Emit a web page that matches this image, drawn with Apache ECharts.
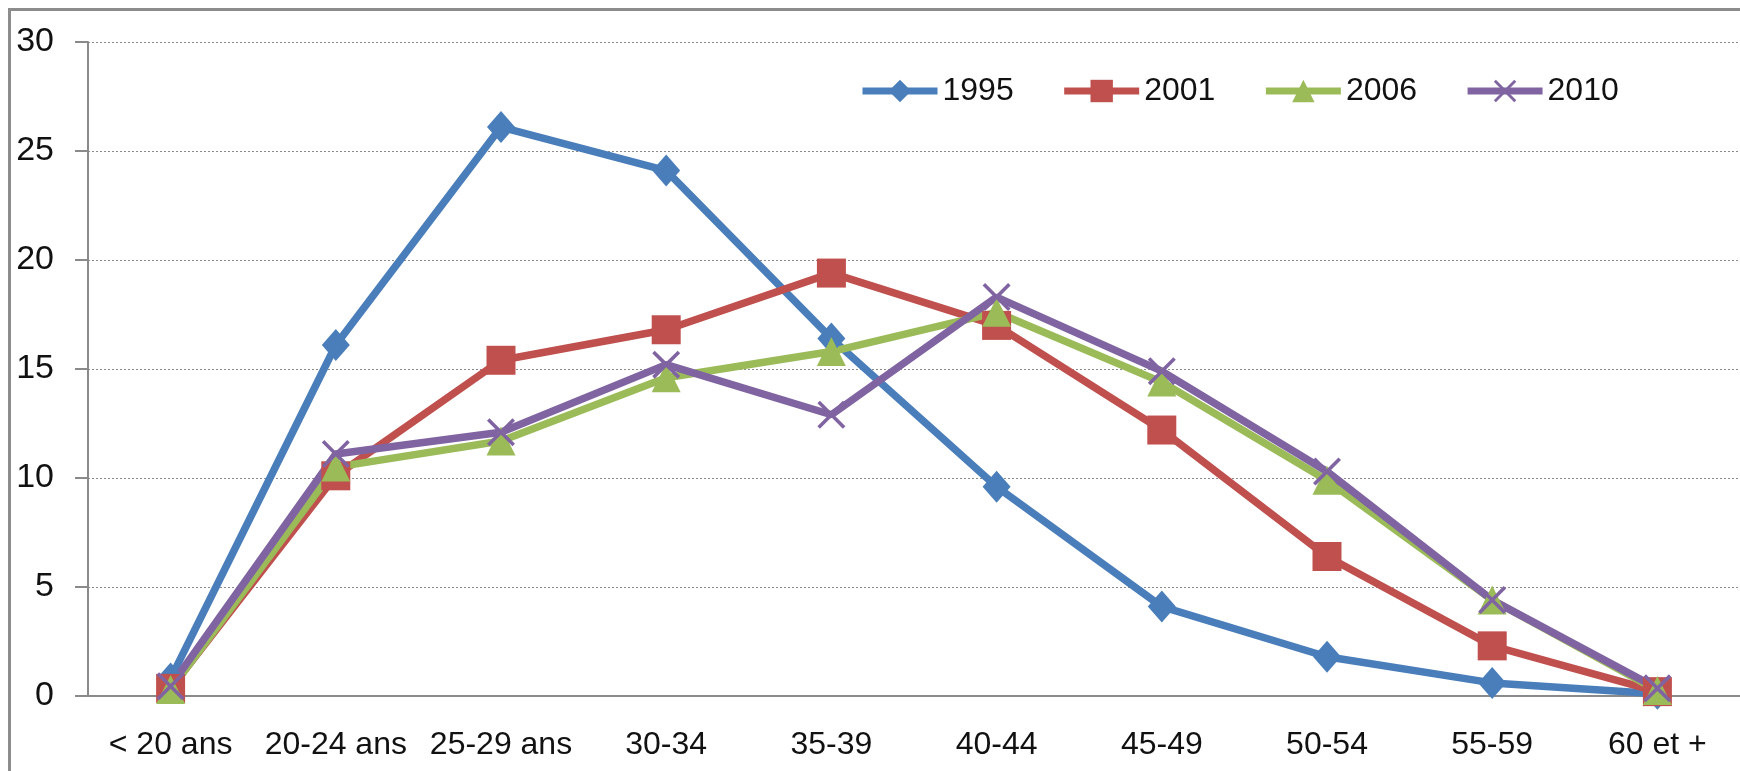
<!DOCTYPE html>
<html>
<head>
<meta charset="utf-8">
<script src="https://cdn.jsdelivr.net/npm/echarts@6/dist/echarts.min.js"></script>
<style>
html,body{margin:0;padding:0;background:#fff;}
#chart{width:1740px;height:771px;}
</style>
</head>
<body>
<div id="chart"></div>
<script>
const categories = ['< 20 ans','20-24 ans','25-29 ans','30-34','35-39','40-44','45-49','50-54','55-59','60 et +'];
const yTicks = [0,5,10,15,20,25,30];
const s1995 = [0.8,16.1,26.1,24.1,16.4,9.6,4.1,1.8,0.6,0.1];
const s2001 = [0.35,10.1,15.4,16.8,19.4,17.0,12.2,6.4,2.3,0.2];
const s2006 = [0.3,10.5,11.7,14.6,15.8,17.6,14.4,9.9,4.4,0.25];
const s2010 = [0.45,11.1,12.1,15.2,12.9,18.3,14.9,10.3,4.4,0.35];
const names = ['1995','2001','2006','2010'];

const FONT = 'Liberation Sans';
const xPath = 'path://M0,0.9L0.9,0L5,4.1L9.1,0L10,0.9L5.9,5L10,9.1L9.1,10L5,5.9L0.9,10L0,9.1L4.1,5Z';

function mk(name, data, color, symbol, size){
  return {
    name: name, type: 'line', data: data,
    symbol: symbol, symbolSize: size, showSymbol: true,
    lineStyle: {color: color, width: 7.5},
    itemStyle: {color: color},
    emphasis: {disabled: true},
    animation: false
  };
}

const chart = echarts.init(document.getElementById('chart'), null, {renderer:'canvas'});
chart.setOption({
  backgroundColor: '#ffffff',
  animation: false,
  textStyle: {fontFamily: FONT},
  grid: {left: 88, top: 42, width: 1660, height: 654, containLabel: false},
  legend: {
    left: 854, top: 70,
    itemWidth: 75, itemHeight: 28, itemGap: 47,
    lineStyle: {width: 7},
    textStyle: {fontFamily: FONT, fontSize: 32, color: '#111'},
    data: names
  },
  xAxis: {
    type: 'category', data: categories, boundaryGap: true,
    axisLine: {show: true, lineStyle: {color: '#8a8a8a', width: 2}},
    axisTick: {show: false},
    axisLabel: {fontFamily: FONT, fontSize: 32, color: '#111', margin: 33, interval: 0}
  },
  yAxis: {
    type: 'value', min: yTicks[0], max: yTicks[yTicks.length-1], interval: 5,
    axisLine: {show: true, lineStyle: {color: '#8a8a8a', width: 2}},
    axisTick: {show: true, inside: false, length: 13, lineStyle: {color: '#8a8a8a', width: 2}},
    axisLabel: {fontFamily: FONT, fontSize: 34, color: '#111', margin: 34},
    splitLine: {show: true, lineStyle: {color: '#8a8a8a', type: [2,2], width: 1}}
  },
  graphic: [{
    type: 'rect', z: 100,
    shape: {x: 9.5, y: 9.5, width: 2000, height: 2000},
    style: {fill: 'none', stroke: '#8c8c8c', lineWidth: 3}
  }],
  series: [
    mk('1995', s1995, '#4a7ebb', 'diamond', [28,32]),
    mk('2001', s2001, '#c0504d', 'rect', 29),
    mk('2006', s2006, '#9bbb59', 'triangle', 29),
    mk('2010', s2010, '#8064a2', xPath, 28)
  ]
});
</script>
</body>
</html>
